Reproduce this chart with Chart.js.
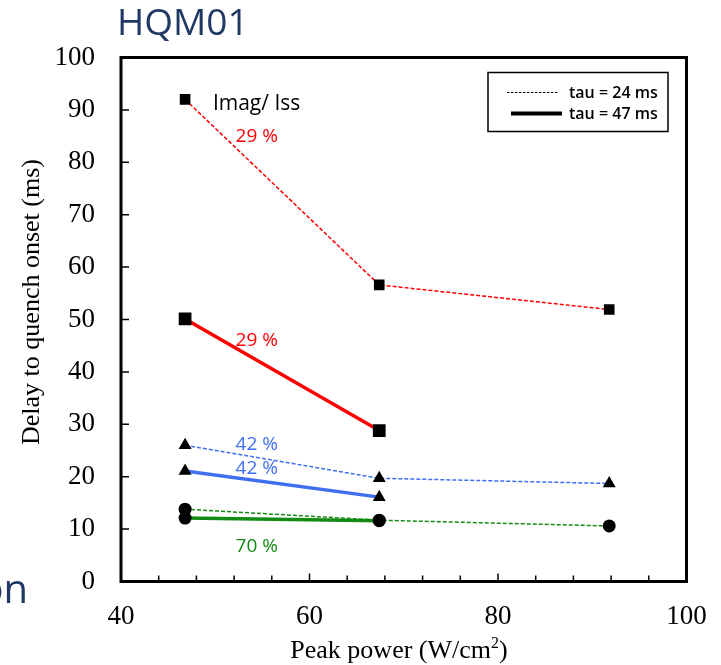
<!DOCTYPE html>
<html><head><meta charset="utf-8">
<script src="https://cdn.jsdelivr.net/npm/chart.js@4/dist/chart.umd.min.js"></script>
<style>html,body{margin:0;padding:0;background:#fff;}#wrap{width:721px;height:665px;position:relative;}</style>
</head><body><div id="wrap"><canvas id="c" width="721" height="665"></canvas></div>
<script>
// ---- text ----
const chartTitle = 'HQM01';
const sideText = 'on';
const xAxisTitle = 'Peak power (W/cm';
const xAxisTitleSup = '2';
const xAxisTitleEnd = ')';
const yAxisTitle = 'Delay to quench onset (ms)';
const legendLabels = ['tau = 24 ms', 'tau = 47 ms'];

// ---- axes ----
const xMin = 40, xMax = 100, xMinorStep = 4, xMajorStep = 20;
const yMin = 0, yMax = 100, yStep = 10;

// ---- data (x = peak power W/cm2, y = delay ms) ----
const powerTau24 = [46.8, 67.4, 91.8];
const powerTau47 = [46.8, 67.4];
const delay29Tau24 = [92.0, 56.6, 51.9];
const delay29Tau47 = [50.1, 28.8];
const delay42Tau24 = [26.0, 19.7, 18.7];
const delay42Tau47 = [21.1, 16.1];
const delay70Tau24 = [13.8, 11.7, 10.6];
const delay70Tau47 = [12.1, 11.6];

// ---- annotations (text, x value, y value of baseline) ----
const annoTexts = ['Imag/ Iss', '29 %', '29 %', '42 %', '42 %', '70 %'];
const annoX = [49.75, 54.4, 54.4, 54.4, 54.4, 54.4];
const annoY = [90.0, 83.9, 44.9, 25.1, 20.5, 5.6];

const RED = '#ff0000', BLUE = '#3f6ff0', GREEN = '#138a13', NAVY = '#1f3864';
const annoColors = ['#000000', RED, RED, BLUE, BLUE, GREEN];
const annoAlign = ['left', 'center', 'center', 'center', 'center', 'center'];

function pts(xs, ys) { return xs.map((x, i) => ({x: x, y: ys[i]})); }

function ds(xs, ys, color, dashed, style, r) {
  return {
    data: pts(xs, ys),
    borderColor: color,
    borderWidth: dashed ? 1.5 : 3.5,
    borderDash: dashed ? [4, 2] : [],
    pointStyle: style,
    pointRadius: r,
    pointHoverRadius: r,
    pointBackgroundColor: '#000',
    pointBorderColor: '#000',
    pointBorderWidth: 0,
    fill: false,
    tension: 0
  };
}

const decor = {
  id: 'decor',
  beforeDraw(chart) {
    const ctx = chart.ctx;
    ctx.save();
    ctx.fillStyle = '#fff';
    ctx.fillRect(0, 0, chart.width, chart.height);
    ctx.restore();
  },
  afterDatasetsDraw(chart) {
    const ctx = chart.ctx, xs = chart.scales.x, ys = chart.scales.y;
    ctx.save();
    ctx.textBaseline = 'alphabetic';
    for (let i = 0; i < annoTexts.length; i++) {
      ctx.font = (i === 0 ? '21px' : '19px') + ' "Open Sans"';
      ctx.fillStyle = annoColors[i];
      ctx.textAlign = annoAlign[i];
      ctx.fillText(annoTexts[i], xs.getPixelForValue(annoX[i]), ys.getPixelForValue(annoY[i]));
    }
    ctx.restore();
  },
  afterDraw(chart) {
    const ctx = chart.ctx, a = chart.chartArea, xs = chart.scales.x, ys = chart.scales.y;
    ctx.save();
    // inward ticks
    ctx.strokeStyle = '#000';
    ctx.lineWidth = 1.5;
    ctx.beginPath();
    for (let v = yMin; v <= yMax; v += yStep) {
      const y = ys.getPixelForValue(v);
      ctx.moveTo(a.left, y); ctx.lineTo(a.left + 8, y);
    }
    for (let v = xMin; v <= xMax; v += xMinorStep) {
      const x = xs.getPixelForValue(v);
      const len = (v % xMajorStep === 0) ? 8 : 6;
      ctx.moveTo(x, a.bottom); ctx.lineTo(x, a.bottom - len);
    }
    ctx.stroke();
    // frame
    ctx.lineWidth = 3;
    ctx.strokeRect(a.left, a.top, a.right - a.left, a.bottom - a.top);

    // legend box
    ctx.lineWidth = 1.5;
    ctx.strokeRect(488, 72.5, 180, 59);
    ctx.beginPath();
    ctx.lineWidth = 1;
    ctx.setLineDash([2.5, 1.5]);
    ctx.moveTo(507, 92.5); ctx.lineTo(559, 92.5);
    ctx.stroke();
    ctx.setLineDash([]);
    ctx.beginPath();
    ctx.lineWidth = 4;
    ctx.moveTo(511, 113.5); ctx.lineTo(562, 113.5);
    ctx.stroke();
    ctx.fillStyle = '#000';
    ctx.font = '600 16px "Open Sans"';
    ctx.textAlign = 'left';
    ctx.fillText(legendLabels[0], 569, 97.5);
    ctx.fillText(legendLabels[1], 569, 118.5);

    // chart title
    ctx.fillStyle = NAVY;
    ctx.font = '37px "Open Sans"';
    ctx.fillText(chartTitle, 117, 35);
    // clipped side text
    ctx.font = '40px "Open Sans"';
    ctx.textAlign = 'right';
    ctx.fillText(sideText, 28, 603);

    // axis titles
    ctx.fillStyle = '#000';
    ctx.font = '26px "Liberation Serif"';
    ctx.textAlign = 'left';
    const w1 = ctx.measureText(xAxisTitle).width;
    ctx.font = '16px "Liberation Serif"';
    const w2 = ctx.measureText(xAxisTitleSup).width;
    ctx.font = '26px "Liberation Serif"';
    const w3 = ctx.measureText(xAxisTitleEnd).width;
    const tot = w1 + w2 + w3;
    let x0 = 399 - tot / 2;
    ctx.fillText(xAxisTitle, x0, 658);
    ctx.font = '16px "Liberation Serif"';
    ctx.fillText(xAxisTitleSup, x0 + w1, 648);
    ctx.font = '26px "Liberation Serif"';
    ctx.fillText(xAxisTitleEnd, x0 + w1 + w2, 658);

    ctx.translate(32, 302);
    ctx.rotate(-Math.PI / 2);
    ctx.textAlign = 'center';
    ctx.textBaseline = 'middle';
    ctx.fillText(yAxisTitle, 0, 0);
    ctx.restore();
  }
};

new Chart(document.getElementById('c'), {
  type: 'line',
  data: {
    datasets: [
      ds(powerTau24, delay29Tau24, RED, true, 'rect', 7.5),
      ds(powerTau47, delay29Tau47, RED, false, 'rect', 9),
      ds(powerTau24, delay42Tau24, BLUE, true, 'triangle', 7.5),
      ds(powerTau47, delay42Tau47, BLUE, false, 'triangle', 7.5),
      ds(powerTau24, delay70Tau24, GREEN, true, 'circle', 6.5),
      ds(powerTau47, delay70Tau47, GREEN, false, 'circle', 6.5)
    ]
  },
  options: {
    responsive: false,
    animation: false,
    layout: { padding: { left: 0, right: 34.5, top: 57.5, bottom: 0 } },
    plugins: { legend: { display: false }, tooltip: { enabled: false }, title: { display: false } },
    scales: {
      x: {
        type: 'linear', min: xMin, max: xMax,
        grid: { display: false, drawTicks: false },
        border: { display: false },
        ticks: {
          stepSize: xMinorStep, autoSkip: false, maxRotation: 0,
          padding: 19, color: '#000',
          font: { family: 'Liberation Serif', size: 27 },
          callback: (v) => (v % xMajorStep === 0 ? String(v) : '')
        },
        afterFit: (s) => { s.height = 83.5; s.paddingLeft = 0; s.paddingRight = 0; }
      },
      y: {
        min: yMin, max: yMax,
        grid: { display: false, drawTicks: false },
        border: { display: false },
        ticks: { stepSize: yStep, padding: 26, color: '#000', font: { family: 'Liberation Serif', size: 27 } },
        afterFit: (s) => { s.width = 121; s.paddingTop = 0; s.paddingBottom = 0; }
      }
    }
  },
  plugins: [decor]
});
</script>
</body></html>
